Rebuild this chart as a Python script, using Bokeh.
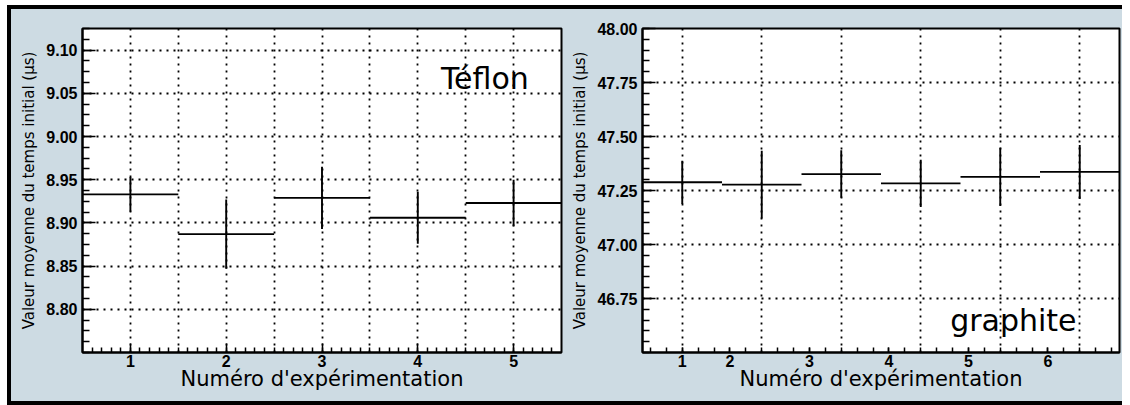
import numpy as np
from bokeh.plotting import figure
from bokeh.layouts import row
from bokeh.models import FixedTicker, Range1d, Label, ColumnDataSource
from bokeh.embed import file_html
from bokeh.resources import INLINE

# ---------------- data ----------------
teflon_exp = [1, 2, 3, 4, 5]
teflon_val = [8.933, 8.887, 8.929, 8.906, 8.923]
teflon_err = [0.020, 0.040, 0.036, 0.030, 0.027]

graphite_exp = [1, 2, 3, 4, 5, 6]
graphite_val = [47.288, 47.277, 47.326, 47.283, 47.313, 47.336]
graphite_err = [0.100, 0.157, 0.110, 0.109, 0.135, 0.125]

teflon_yticks = [8.80, 8.85, 8.90, 8.95, 9.00, 9.05, 9.10]
graphite_yticks = [46.75, 47.00, 47.25, 47.50, 47.75, 48.00]
graphite_xlabels = ["1", "2", "3", "4", "5", "6"]

PANEL = "#cddbe3"
TICK_FONT = "Liberation Sans"
TITLE_FONT = "DejaVu Sans"
XTITLE = "Numéro d'expérimentation"
YTITLE = "Valeur moyenne du temps initial (μs)"

H = 392


def style(p):
    p.background_fill_color = "white"
    p.border_fill_color = PANEL
    p.outline_line_color = "black"
    p.outline_line_width = 2
    for ax in (p.xaxis, p.yaxis):
        ax.axis_line_color = "black"
        ax.axis_line_width = 2
        ax.major_tick_out = 0
        ax.minor_tick_out = 0
        ax.major_tick_line_color = "black"
        ax.minor_tick_line_color = "black"
        ax.major_tick_line_width = 1.5
        ax.minor_tick_line_width = 1.5
        ax.major_label_text_font = TICK_FONT
        ax.major_label_text_font_style = "bold"
        ax.major_label_text_font_size = "16px"
        ax.major_label_text_color = "black"
        ax.axis_label_text_font = TITLE_FONT
        ax.axis_label_text_font_style = "normal"
        ax.axis_label_text_color = "black"
    p.xaxis.major_tick_in = 9
    p.xaxis.minor_tick_in = 5
    p.yaxis.major_tick_in = 13
    p.yaxis.minor_tick_in = 7
    p.xaxis.axis_label = XTITLE
    p.xaxis.axis_label_text_font_size = "21px"
    p.xaxis.axis_label_standoff = -3
    p.xaxis.major_label_standoff = 2
    p.yaxis.axis_label = YTITLE
    p.yaxis.axis_label_text_font_size = "15px"
    p.yaxis.axis_label_standoff = 5
    p.yaxis.major_label_standoff = 5
    for g in (p.xgrid, p.ygrid):
        g.grid_line_color = "black"
        g.grid_line_dash = "2 5"
        g.grid_line_width = 1.8


def draw(p, xs, ys, es):
    xs = np.asarray(xs, float)
    ys = np.asarray(ys, float)
    es = np.asarray(es, float)
    src = ColumnDataSource(dict(x=xs, y=ys, lo=ys - es, hi=ys + es,
                                xl=xs - 0.5, xr=xs + 0.5))
    p.segment(x0="xl", x1="xr", y0="y", y1="y", source=src,
              line_color="black", line_width=1.9)
    p.segment(x0="x", x1="x", y0="lo", y1="hi", source=src,
              line_color="black", line_width=1.9)


# ---------------- Téflon ----------------
p1 = figure(width=554, height=H, output_backend="svg", toolbar_location=None,
            x_range=Range1d(0.5, 5.5), y_range=Range1d(8.75, 9.125),
            min_border_left=71, min_border_right=4,
            min_border_top=19, min_border_bottom=49)
style(p1)
p1.xaxis.ticker = FixedTicker(ticks=teflon_exp,
                              minor_ticks=list(np.round(np.arange(0.6, 5.5, 0.1), 3)))
p1.yaxis.ticker = FixedTicker(ticks=teflon_yticks,
                              minor_ticks=list(np.round(np.arange(8.75, 9.126, 0.0125), 4)))
p1.yaxis.major_label_overrides = {t: f"{t:.2f}" for t in teflon_yticks}
p1.xgrid.ticker = FixedTicker(ticks=list(np.arange(1.0, 5.01, 0.5)))
p1.ygrid.ticker = FixedTicker(ticks=teflon_yticks)
draw(p1, teflon_exp, teflon_val, teflon_err)
p1.add_layout(Label(x=4.70, y=9.067, text="Téflon", text_align="center",
                    text_baseline="alphabetic", text_font=TITLE_FONT,
                    text_font_size="30px", text_color="black"))

# ---------------- graphite ----------------
p2 = figure(width=557, height=H, output_backend="svg", toolbar_location=None,
            x_range=Range1d(0.5, 6.5), y_range=Range1d(46.5, 48.0),
            min_border_left=77, min_border_right=3,
            min_border_top=19, min_border_bottom=49)
style(p2)
g_label_pos = [1.0, 1.6, 2.6, 3.6, 4.6, 5.6]
p2.xaxis.ticker = FixedTicker(ticks=g_label_pos,
                              minor_ticks=list(np.round(np.arange(0.6, 6.5, 0.2), 3)))
p2.xaxis.major_label_overrides = {t: l for t, l in zip(g_label_pos, graphite_xlabels)}
p2.xaxis.major_tick_in = 5
p2.yaxis.ticker = FixedTicker(ticks=graphite_yticks,
                              minor_ticks=list(np.round(np.arange(46.5, 48.001, 0.05), 3)))
p2.yaxis.major_label_overrides = {t: f"{t:.2f}" for t in graphite_yticks}
p2.xgrid.ticker = FixedTicker(ticks=graphite_exp)
p2.ygrid.ticker = FixedTicker(ticks=graphite_yticks)
draw(p2, graphite_exp, graphite_val, graphite_err)
p2.add_layout(Label(x=5.165, y=46.65, text="graphite", text_align="center",
                    text_baseline="alphabetic", text_font=TITLE_FONT,
                    text_font_size="30px", text_color="black"))

layout = row(p1, p2, styles={"border-top": "4px solid black",
                             "border-left": "4px solid black",
                             "border-bottom": "4px solid black",
                             "margin-left": "7px",
                             "margin-top": "5px",
                             "background-color": PANEL})

open("out.html", "w").write(file_html(layout, INLINE))
